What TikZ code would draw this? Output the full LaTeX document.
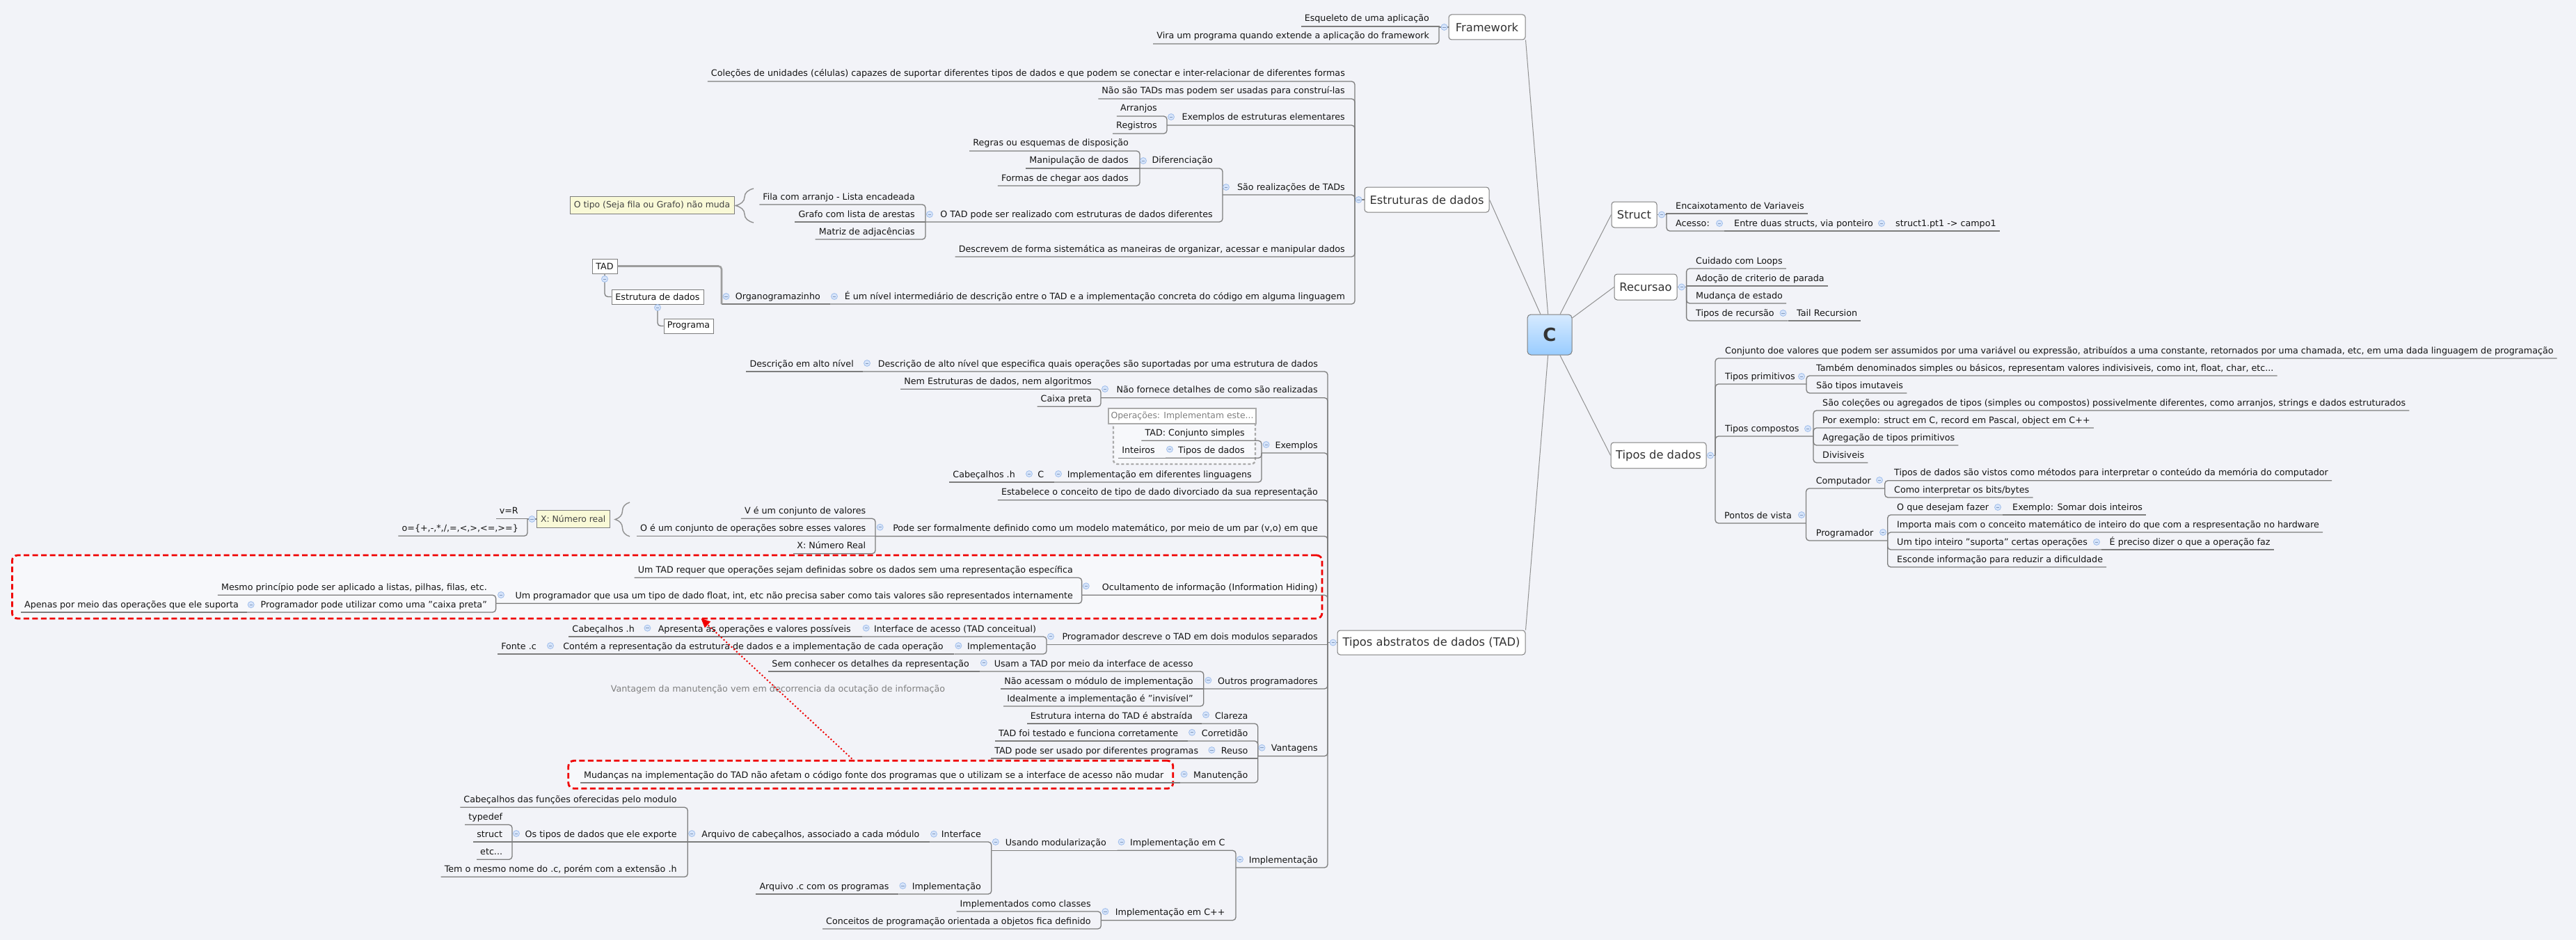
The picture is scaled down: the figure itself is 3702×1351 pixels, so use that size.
\documentclass[tikz,border=0pt]{standalone}
\usepackage{fontspec}
\setmainfont{DejaVu Sans}
\usetikzlibrary{calc,arrows.meta,decorations.pathreplacing}
\definecolor{bgc}{RGB}{242,243,248}
\definecolor{txt}{RGB}{20,20,20}
\definecolor{maintxt}{RGB}{51,51,51}
\definecolor{lnc}{RGB}{125,125,125}
\definecolor{brc}{RGB}{145,145,145}
\definecolor{boxc}{RGB}{125,125,125}
\definecolor{mkf}{RGB}{214,228,250}
\definecolor{mkd}{RGB}{160,190,235}
\definecolor{sumf}{RGB}{249,249,215}
\definecolor{inbg}{RGB}{247,248,251}
\definecolor{bdg}{RGB}{170,170,170}
\definecolor{lblc}{RGB}{128,128,128}
\definecolor{redc}{RGB}{240,0,0}
\definecolor{ctop}{RGB}{214,234,255}
\definecolor{cbot}{RGB}{153,204,255}
\newcommand\tpL[4]{\node[topic,anchor=base east] (#1) at (#2,#3-7) {#4};}
\newcommand\tpR[4]{\node[topic,anchor=base west] (#1) at (#2,#3-7) {#4};}
\newcommand\leafL[2]{\draw[conn] (#1) |- ($(#2.base west)+(-5,7)$);}
\newcommand\leafR[2]{\draw[conn] (#1) |- ($(#2.base east)+(5,7)$);}
\newcommand\leafLs[2]{\draw[conn,sharp corners] (#1) |- ($(#2.base west)+(-5,7)$);}
\newcommand\leafRs[2]{\draw[conn,sharp corners] (#1) |- ($(#2.base east)+(5,7)$);}
\newcommand\lnk[2]{\draw[conn] (#1) |- (#2);}
\newcommand\lnks[2]{\draw[conn,sharp corners] (#1) |- (#2);}
\newcommand\mkat[3]{\node[mkr] (#1) at (#2,#3) {};}
\tikzset{
  topic/.style={inner sep=0pt, font=\fontsize{12.7}{15}\selectfont, text=txt},
  conn/.style={draw=lnc, line width=1.3pt, rounded corners=4.5pt},
  branch/.style={draw=brc, line width=1pt},
  mbox/.style={draw=boxc, fill=white, rounded corners=4pt, line width=1pt, font=\fontsize{16.3}{19}\selectfont, text=maintxt, inner sep=0pt},
  cbox/.style={draw=boxc, rounded corners=5pt, line width=1pt, top color=ctop, bottom color=cbot, font=\fontsize{26}{30}\selectfont\bfseries, text=maintxt, inner sep=0pt, minimum width=64pt, minimum height=58pt},
  orgb/.style={draw=boxc, fill=white, line width=1pt, inner sep=0pt, font=\fontsize{12.7}{15}\selectfont, text=txt},
  sumb/.style={draw=boxc, fill=sumf, line width=1pt, inner sep=0pt, font=\fontsize{12.4}{15}\selectfont, text=txt!80},
  mkr/.style={circle, draw=mkd, fill=mkf, line width=0.8pt, minimum size=9pt, inner sep=0pt,
    path picture={\draw[draw=mkd!80!black, line width=0.9pt] ([xshift=2.4pt]path picture bounding box.west) -- ([xshift=-2.4pt]path picture bounding box.east);}},
  redbd/.style={draw=redc, line width=2.8pt, dash pattern=on 8pt off 4.5pt, rounded corners=8pt, fill=inbg, inner sep=0pt},
  grbd/.style={draw=bdg, line width=2.4pt, dash pattern=on 4pt off 3pt, rounded corners=6pt, fill=inbg, inner sep=0pt},
  gtitle/.style={draw=bdg, line width=2.4pt, fill=white, inner sep=0pt, font=\fontsize{12.4}{15}\selectfont, text=lblc},
  bracesty/.style={draw=brc, line width=1.4pt, decorate},
  lbl/.style={inner sep=0pt, font=\fontsize{12.7}{15}\selectfont, text=lblc},
  dotline/.style={draw=redc, line width=2.8pt, dash pattern=on 0pt off 5pt, line cap=round},
  arrtip/.style={draw=redc, fill=redc, line width=1pt, -{Triangle[length=13pt,width=12pt]}}
}
\begin{document}
\begin{tikzpicture}[x=1pt,y=-1pt]
\useasboundingbox (0,0) rectangle (3702,1351);
\fill[bgc] (0,0) rectangle (3702,1351);

% boundaries
\node[redbd, minimum width=1882.6pt, minimum height=91pt] (rb1) at (958.7,843.5) {};
\node[redbd, minimum width=869pt, minimum height=40pt] (rb2) at (1251.3,1113.3) {};
\node[grbd, minimum width=204pt, minimum height=69pt] (gb) at (1702,632.5) {};
\node[gtitle, minimum width=212pt, minimum height=22pt] (gt) at (1699,598) {Operações: Implementam este...};

% central and main topics
\node[cbox] (C) at (2227,481) {C};
\node[mbox, minimum width=110pt, minimum height=36pt] (fw) at (2137,39) {Framework};
\node[mbox, minimum width=179pt, minimum height=36pt] (ed) at (2050.5,287) {Estruturas de dados};
\node[mbox, minimum width=65pt, minimum height=37pt] (st) at (2348.5,308.5) {Struct};
\node[mbox, minimum width=90pt, minimum height=37pt] (rc) at (2365,412.5) {Recursao};
\node[mbox, minimum width=137pt, minimum height=37pt] (td) at (2383.5,654.5) {Tipos de dados};
\node[mbox, minimum width=270pt, minimum height=35pt] (ta) at (2057,923.5) {Tipos abstratos de dados (TAD)};
\draw[branch] (C) -- (fw.south east);
\draw[branch] (C) -- (ed.east);
\draw[branch] (C) -- (st.west);
\draw[branch] (C) -- (rc.west);
\draw[branch] (C) -- (td.west);
\draw[branch] (C) -- (ta.north east);

% ---------------- Framework
\coordinate (s-fw) at (2068,39);
\tpL{fw1}{2054}{38}{Esqueleto de uma aplicação}
\tpL{fw2}{2054}{63}{Vira um programa quando extende a aplicação do framework}
\draw[conn] (fw.west) -- (s-fw);
\leafLs{s-fw}{fw1}
\leafL{s-fw}{fw2}

% ---------------- Estruturas de dados
\coordinate (s-ed) at (1947,287);
\coordinate (s-ed3) at (1677,180);
\coordinate (s-ed4) at (1757,280);
\coordinate (s-ed4a) at (1638,242);
\coordinate (s-ed4b) at (1330,319);
\coordinate (s-ed6) at (1193,437);
\coordinate (s-org) at (1037,437);
\tpL{ed1}{1933}{117}{Coleções de unidades (células) capazes de suportar diferentes tipos de dados e que podem se conectar e inter-relacionar de diferentes formas}
\tpL{ed2}{1933}{142}{Não são TADs mas podem ser usadas para construí-las}
\tpL{ed3}{1933}{180}{Exemplos de estruturas elementares}
\tpL{ed3a}{1663}{167}{Arranjos}
\tpL{ed3b}{1663}{192}{Registros}
\tpL{ed4}{1933}{280}{São realizações de TADs}
\tpL{ed4a}{1743}{242}{Diferenciação}
\tpL{ed4a1}{1622}{217}{Regras ou esquemas de disposição}
\tpL{ed4a2}{1622}{242}{Manipulação de dados}
\tpL{ed4a3}{1622}{267}{Formas de chegar aos dados}
\tpL{ed4b}{1743}{319}{O TAD pode ser realizado com estruturas de dados diferentes}
\tpL{ed4b1}{1315}{294}{Fila com arranjo - Lista encadeada}
\tpL{ed4b2}{1315}{319}{Grafo com lista de arestas}
\tpL{ed4b3}{1315}{344}{Matriz de adjacências}
\tpL{ed5}{1933}{369}{Descrevem de forma sistemática as maneiras de organizar, acessar e manipular dados}
\tpL{ed6}{1933}{437}{É um nível intermediário de descrição entre o TAD e a implementação concreta do código em alguma linguagem}
\tpL{org}{1179}{437}{Organogramazinho}
\node[orgb, minimum width=36pt, minimum height=21pt] (tadb) at (869,382.5) {TAD};
\node[orgb, minimum width=132pt, minimum height=21pt] (esb) at (945,426.5) {Estrutura de dados};
\node[orgb, minimum width=71pt, minimum height=21pt] (prb) at (989.5,468.5) {Programa};
\node[sumb, minimum width=236pt, minimum height=25pt] (sm1) at (937,294.5) {O tipo (Seja fila ou Grafo) não muda};
\draw[bracesty, decoration={brace,amplitude=26pt}] (1083,320) -- (1083,271);
\draw[conn] (ed.west) -- (s-ed);
\leafL{s-ed}{ed1}
\leafL{s-ed}{ed2}
\lnk{s-ed}{s-ed3}
\leafL{s-ed3}{ed3a}
\leafL{s-ed3}{ed3b}
\lnk{s-ed}{s-ed4}
\lnk{s-ed4}{s-ed4a}
\leafL{s-ed4a}{ed4a1}
\leafLs{s-ed4a}{ed4a2}
\leafL{s-ed4a}{ed4a3}
\lnk{s-ed4}{s-ed4b}
\leafL{s-ed4b}{ed4b1}
\leafLs{s-ed4b}{ed4b2}
\leafL{s-ed4b}{ed4b3}
\leafL{s-ed}{ed5}
\lnk{s-ed}{s-ed6}
\lnks{s-ed6}{s-org}
\draw[conn, draw=lnc!75, line width=2.6pt] (s-org) |- (tadb.east);
\draw[conn] (tadb.south) |- (esb.west);
\draw[conn] (esb.south) |- (prb.west);

% ---------------- Struct
\coordinate (s-st) at (2395,308.5);
\coordinate (s-st2) at (2478,332);
\coordinate (s-st3) at (2711,332);
\tpR{st1}{2408}{307}{Encaixotamento de Variaveis}
\tpR{st2}{2408}{332}{Acesso:}
\tpR{st3}{2492}{332}{Entre duas structs, via ponteiro}
\tpR{st4}{2724}{332}{struct1.pt1 -> campo1}
\draw[conn] (st.east) -- (s-st);
\leafRs{s-st}{st1}
\lnk{s-st}{s-st2}
\lnks{s-st2}{s-st3}
\leafRs{s-st3}{st4}

% ---------------- Recursao
\coordinate (s-rc) at (2423.6,412.5);
\coordinate (s-rc4) at (2569.5,461);
\tpR{rc1}{2437}{386}{Cuidado com Loops}
\tpR{rc2}{2437}{411}{Adoção de criterio de parada}
\tpR{rc3}{2437}{436}{Mudança de estado}
\tpR{rc4}{2437}{461}{Tipos de recursão}
\tpR{rc5}{2582}{461}{Tail Recursion}
\draw[conn] (rc.east) -- (s-rc);
\leafR{s-rc}{rc1}
\leafRs{s-rc}{rc2}
\leafR{s-rc}{rc3}
\lnk{s-rc}{s-rc4}
\leafRs{s-rc4}{rc5}

% ---------------- Tipos de dados
\coordinate (s-td) at (2465,654.5);
\coordinate (s-td2) at (2596,552);
\coordinate (s-td3) at (2606,627);
\coordinate (s-td4) at (2595.5,752);
\coordinate (s-td4a) at (2708.7,702);
\coordinate (s-td4b) at (2712.7,777);
\coordinate (s-td4b1) at (2878,740);
\coordinate (s-td4b3) at (3020,790);
\tpR{td1}{2479}{515}{Conjunto doe valores que podem ser assumidos por uma variável ou expressão, atribuídos a uma constante, retornados por uma chamada, etc, em uma dada linguagem de programação}
\tpR{td2}{2479}{552}{Tipos primitivos}
\tpR{td2a}{2610}{540}{Também denominados simples ou básicos, representam valores indivisiveis, como int, float, char, etc...}
\tpR{td2b}{2610}{565}{São tipos imutaveis}
\tpR{td3}{2479}{627}{Tipos compostos}
\tpR{td3a}{2619}{590}{São coleções ou agregados de tipos (simples ou compostos) possivelmente diferentes, como arranjos, strings e dados estruturados}
\tpR{td3b}{2619}{615}{Por exemplo: struct em C, record em Pascal, object em C++}
\tpR{td3c}{2619}{640}{Agregação de tipos primitivos}
\tpR{td3d}{2619}{665}{Divisiveis}
\tpR{td4}{2478}{752}{Pontos de vista}
\tpR{td4a}{2609.6}{702}{Computador}
\tpR{td4a1}{2722}{690.7}{Tipos de dados são vistos como métodos para interpretar o conteúdo da memória do computador}
\tpR{td4a2}{2722}{715}{Como interpretar os bits/bytes}
\tpR{td4b}{2609.6}{777}{Programador}
\tpR{td4b1}{2726}{740}{O que desejam fazer}
\tpR{td4b1a}{2892}{740}{Exemplo: Somar dois inteiros}
\tpR{td4b2}{2726}{765}{Importa mais com o conceito matemático de inteiro do que com a respresentação no hardware}
\tpR{td4b3}{2726}{790}{Um tipo inteiro "suporta" certas operações}
\tpR{td4b3a}{3031.5}{790}{É preciso dizer o que a operação faz}
\tpR{td4b4}{2726}{815}{Esconde informação para reduzir a dificuldade}
\draw[conn] (td.east) -- (s-td);
\leafR{s-td}{td1}
\lnk{s-td}{s-td2}
\leafR{s-td2}{td2a}
\leafR{s-td2}{td2b}
\lnk{s-td}{s-td3}
\leafR{s-td3}{td3a}
\leafR{s-td3}{td3b}
\leafR{s-td3}{td3c}
\leafR{s-td3}{td3d}
\lnk{s-td}{s-td4}
\lnk{s-td4}{s-td4a}
\leafR{s-td4a}{td4a1}
\leafR{s-td4a}{td4a2}
\lnk{s-td4}{s-td4b}
\lnk{s-td4b}{s-td4b1}
\leafRs{s-td4b1}{td4b1a}
\leafR{s-td4b}{td4b2}
\lnk{s-td4b}{s-td4b3}
\leafRs{s-td4b3}{td4b3a}
\leafR{s-td4b}{td4b4}

% ---------------- Tipos abstratos de dados
\coordinate (s-ta) at (1908,923.5);
\coordinate (s-ta1) at (1240,534);
\coordinate (s-ta2) at (1582,571.7);
\coordinate (s-ta3) at (1813,651);
\coordinate (s-ta3b) at (1675,658.3);
\coordinate (s-ta3c) at (1515,693);
\coordinate (s-ta3c1) at (1473,693);
\coordinate (s-ta5) at (1258,770.7);
\coordinate (s-sm2) at (758,746);
\coordinate (s-ta6) at (1554.6,855.3);
\coordinate (s-ta6b) at (712.6,867.3);
\coordinate (s-ta6b2) at (354.7,880);
\coordinate (s-ta7) at (1504,926.7);
\coordinate (s-ta7a) at (1238.7,915);
\coordinate (s-ta7a1) at (924.4,915);
\coordinate (s-ta7b) at (1371.4,940);
\coordinate (s-ta7b1) at (785,940);
\coordinate (s-ta8) at (1729.8,990);
\coordinate (s-ta8a) at (1407.8,965);
\coordinate (s-ta9) at (1807.7,1086.7);
\coordinate (s-ta9a) at (1727,1040);
\coordinate (s-ta9b) at (1707,1065);
\coordinate (s-ta9c) at (1735.4,1090);
\coordinate (s-ta9d) at (1695.6,1125);
\coordinate (s-ta10) at (1776,1247);
\coordinate (s-ta10a) at (1605.6,1222.3);
\coordinate (s-ta10a1) at (1424.8,1222.3);
\coordinate (s-ta10i) at (1336,1210);
\coordinate (s-ta10i1) at (988.3,1210);
\coordinate (s-ta10i1b) at (736,1210);
\coordinate (s-ta10m) at (1291.4,1285);
\coordinate (s-ta10b) at (1582.3,1322.7);

\tpL{ta1}{1894}{534}{Descrição de alto nível que especifica quais operações são suportadas por uma estrutura de dados}
\tpL{ta1a}{1227}{534}{Descrição em alto nível}
\tpL{ta2}{1894}{571.7}{Não fornece detalhes de como são realizadas}
\tpL{ta2a}{1569}{559.3}{Nem Estruturas de dados, nem algoritmos}
\tpL{ta2b}{1569}{584.3}{Caixa preta}
\tpL{ta3}{1894}{651}{Exemplos}
\tpL{ta3a}{1789}{633.3}{TAD: Conjunto simples}
\tpL{ta3b}{1789}{658.3}{Tipos de dados}
\tpL{ta3b1}{1660}{658.3}{Inteiros}
\tpL{ta3c}{1799}{693}{Implementação em diferentes linguagens}
\tpL{ta3c1}{1500.5}{693}{C}
\tpL{ta3c2}{1459}{693}{Cabeçalhos .h}
\tpL{ta4}{1894}{718.7}{Estabelece o conceito de tipo de dado divorciado da sua representação}
\tpL{ta5}{1894}{770.7}{Pode ser formalmente definido como um modelo matemático, por meio de um par (v,o) em que}
\tpL{ta5a}{1244.4}{745.3}{V é um conjunto de valores}
\tpL{ta5b}{1244.4}{770.7}{O é um conjunto de operações sobre esses valores}
\tpL{ta5c}{1244.4}{795.7}{X: Número Real}
\node[sumb, minimum width=105pt, minimum height=25pt] (sm2) at (823.7,746) {X: Número real};
\draw[bracesty, decoration={brace,amplitude=21pt}] (905,771) -- (905,722);
\tpL{sm2a}{745}{745.3}{v=R}
\tpL{sm2b}{745}{770.3}{o=\{+,-,*,/,=,<,>,<=,>=\}}
\tpL{ta6}{1894}{855.3}{Ocultamento de informação (Information Hiding)}
\tpL{ta6a}{1542}{830.3}{Um TAD requer que operações sejam definidas sobre os dados sem uma representação específica}
\tpL{ta6b}{1542}{867.3}{Um programador que usa um tipo de dado float, int, etc não precisa saber como tais valores são representados internamente}
\tpL{ta6b1}{700}{855.3}{Mesmo princípio pode ser aplicado a listas, pilhas, filas, etc.}
\tpL{ta6b2}{700}{880}{Programador pode utilizar como uma "caixa preta"}
\tpL{ta6b2a}{343}{880}{Apenas por meio das operações que ele suporta}
\tpL{ta7}{1894}{926.7}{Programador descreve o TAD em dois modulos separados}
\tpL{ta7a}{1489.3}{915}{Interface de acesso (TAD conceitual)}
\tpL{ta7a1}{1223}{915}{Apresenta as operações e valores possíveis}
\tpL{ta7a2}{912}{915}{Cabeçalhos .h}
\tpL{ta7b}{1489.3}{940}{Implementação}
\tpL{ta7b1}{1355.8}{940}{Contém a representação da estrutura de dados e a implementação de cada operação}
\tpL{ta7b2}{771}{940}{Fonte .c}
\tpL{ta8}{1894}{990}{Outros programadores}
\tpL{ta8a}{1714.8}{965}{Usam a TAD por meio da interface de acesso}
\tpL{ta8a1}{1393}{965}{Sem conhecer os detalhes da representação}
\tpL{ta8b}{1714.8}{990}{Não acessam o módulo de implementação}
\tpL{ta8c}{1714.8}{1015}{Idealmente a implementação é "invisível"}
\tpL{ta9}{1894}{1086.7}{Vantagens}
\tpL{ta9a}{1793.6}{1040}{Clareza}
\tpL{ta9a1}{1714}{1040}{Estrutura interna do TAD é abstraída}
\tpL{ta9b}{1793.6}{1065}{Corretidão}
\tpL{ta9b1}{1693.3}{1065}{TAD foi testado e funciona corretamente}
\tpL{ta9c}{1793.6}{1090}{Reuso}
\tpL{ta9c1}{1722.3}{1090}{TAD pode ser usado por diferentes programas}
\tpL{ta9d}{1793.6}{1125}{Manutenção}
\tpL{ta9d1}{1672.5}{1125}{Mudanças na implementação do TAD não afetam o código fonte dos programas que o utilizam se a interface de acesso não mudar}
\tpL{ta10}{1894}{1247}{Implementação}
\tpL{ta10a}{1760.6}{1222.3}{Implementação em C}
\tpL{ta10a1}{1590}{1222.3}{Usando modularização}
\tpL{ta10i}{1410}{1210}{Interface}
\tpL{ta10i1}{1321.5}{1210}{Arquivo de cabeçalhos, associado a cada módulo}
\tpL{ta10i1a}{972.8}{1160.3}{Cabeçalhos das funções oferecidas pelo modulo}
\tpL{ta10i1b}{972.8}{1210}{Os tipos de dados que ele exporte}
\tpL{ty1}{722.3}{1185.3}{typedef}
\tpL{ty2}{722.3}{1210}{struct}
\tpL{ty3}{722.3}{1235.3}{etc...}
\tpL{ta10i1c}{972.8}{1260.3}{Tem o mesmo nome do .c, porém com a extensão .h}
\tpL{ta10m}{1410}{1285}{Implementação}
\tpL{ta10m1}{1277.6}{1285}{Arquivo .c com os programas}
\tpL{ta10b}{1760.6}{1322.7}{Implementação em C++}
\tpL{ta10b1}{1567.8}{1310}{Implementados como classes}
\tpL{ta10b2}{1567.8}{1335}{Conceitos de programação orientada a objetos fica definido}

\draw[conn] (ta.west) -- (s-ta);
\lnk{s-ta}{s-ta1}
\leafLs{s-ta1}{ta1a}
\lnk{s-ta}{s-ta2}
\leafL{s-ta2}{ta2a}
\leafL{s-ta2}{ta2b}
\lnk{s-ta}{s-ta3}
\leafL{s-ta3}{ta3a}
\lnk{s-ta3}{s-ta3b}
\leafLs{s-ta3b}{ta3b1}
\lnk{s-ta3}{s-ta3c}
\lnks{s-ta3c}{s-ta3c1}
\leafLs{s-ta3c1}{ta3c2}
\leafL{s-ta}{ta4}
\lnk{s-ta}{s-ta5}
\leafL{s-ta5}{ta5a}
\leafLs{s-ta5}{ta5b}
\leafL{s-ta5}{ta5c}
\draw[conn] (sm2.west) -- (s-sm2);
\leafLs{s-sm2}{sm2a}
\leafL{s-sm2}{sm2b}
\lnk{s-ta}{s-ta6}
\leafL{s-ta6}{ta6a}
\lnk{s-ta6}{s-ta6b}
\leafL{s-ta6b}{ta6b1}
\lnk{s-ta6b}{s-ta6b2}
\leafLs{s-ta6b2}{ta6b2a}
\lnks{s-ta}{s-ta7}
\lnk{s-ta7}{s-ta7a}
\lnks{s-ta7a}{s-ta7a1}
\leafLs{s-ta7a1}{ta7a2}
\lnk{s-ta7}{s-ta7b}
\lnks{s-ta7b}{s-ta7b1}
\leafLs{s-ta7b1}{ta7b2}
\lnk{s-ta}{s-ta8}
\lnk{s-ta8}{s-ta8a}
\leafLs{s-ta8a}{ta8a1}
\leafLs{s-ta8}{ta8b}
\leafL{s-ta8}{ta8c}
\lnk{s-ta}{s-ta9}
\lnk{s-ta9}{s-ta9a}
\leafLs{s-ta9a}{ta9a1}
\lnk{s-ta9}{s-ta9b}
\leafLs{s-ta9b}{ta9b1}
\lnks{s-ta9}{s-ta9c}
\leafLs{s-ta9c}{ta9c1}
\lnk{s-ta9}{s-ta9d}
\leafLs{s-ta9d}{ta9d1}
\lnk{s-ta}{s-ta10}
\lnk{s-ta10}{s-ta10a}
\lnks{s-ta10a}{s-ta10a1}
\lnk{s-ta10a1}{s-ta10i}
\lnks{s-ta10i}{s-ta10i1}
\leafL{s-ta10i1}{ta10i1a}
\lnks{s-ta10i1}{s-ta10i1b}
\leafL{s-ta10i1b}{ty1}
\leafLs{s-ta10i1b}{ty2}
\leafL{s-ta10i1b}{ty3}
\leafL{s-ta10i1}{ta10i1c}
\lnk{s-ta10a1}{s-ta10m}
\leafLs{s-ta10m}{ta10m1}
\lnk{s-ta10}{s-ta10b}
\leafL{s-ta10b}{ta10b1}
\leafL{s-ta10b}{ta10b2}

% ---------------- markers
\mkat{m-fw}{2075.5}{39}
\mkat{m-ed}{1952.5}{287}
\mkat{m-ed3}{1683}{168}
\mkat{m-ed4}{1762}{269}
\mkat{m-ed4a}{1643}{231}
\mkat{m-ed4b}{1336}{308}
\mkat{m-ed6}{1199}{426}
\mkat{m-org}{1043.5}{426}
\mkat{m-tadb}{869}{401}
\mkat{m-esb}{945}{442}
\mkat{m-st}{2388}{308.5}
\mkat{m-st2}{2471}{321}
\mkat{m-st3}{2704}{321}
\mkat{m-rc}{2416.6}{412.5}
\mkat{m-rc4}{2562.5}{450}
\mkat{m-td}{2458}{654.5}
\mkat{m-td2}{2589}{541}
\mkat{m-td3}{2598}{616}
\mkat{m-td4}{2589}{740}
\mkat{m-td4a}{2701}{690}
\mkat{m-td4b}{2706}{765}
\mkat{m-td4b1}{2871}{729}
\mkat{m-td4b3}{3013}{779}
\mkat{m-ta}{1915.7}{923.5}
\mkat{m-ta1}{1246}{522}
\mkat{m-ta2}{1588}{559}
\mkat{m-ta3}{1819.6}{639}
\mkat{m-ta3b}{1681}{645.7}
\mkat{m-ta3c}{1521}{681}
\mkat{m-ta3c1}{1479}{681}
\mkat{m-ta5}{1264.7}{757.7}
\mkat{m-sm2}{764.5}{746}
\mkat{m-ta6}{1560.8}{842.3}
\mkat{m-ta6b}{720}{855}
\mkat{m-ta6b2}{360.7}{869}
\mkat{m-ta7}{1510}{914.7}
\mkat{m-ta7a}{1244.7}{902.7}
\mkat{m-ta7a1}{930.4}{902.7}
\mkat{m-ta7b}{1377.4}{928}
\mkat{m-ta7b1}{791}{928}
\mkat{m-ta8}{1736.4}{977.7}
\mkat{m-ta8a}{1413.8}{952.7}
\mkat{m-ta9}{1813.5}{1074.7}
\mkat{m-ta9a}{1733}{1027.3}
\mkat{m-ta9b}{1713}{1052.7}
\mkat{m-ta9c}{1741.4}{1078}
\mkat{m-ta9d}{1701.6}{1112.7}
\mkat{m-ta10}{1782}{1235}
\mkat{m-ta10a}{1611.6}{1210}
\mkat{m-ta10a1}{1430.8}{1210}
\mkat{m-ta10i}{1342}{1198.7}
\mkat{m-ta10i1}{994.3}{1198}
\mkat{m-ta10i1b}{742}{1198}
\mkat{m-ta10m}{1297.4}{1273}
\mkat{m-ta10b}{1588.4}{1310}

% ---------------- relationship
\node[lbl, anchor=base] (lb) at (1118,994.5) {Vantagem da manutenção vem em decorrencia da ocutação de informação};
\coordinate (a1) at (1227.3,1093.3);
\coordinate (a2) at (1007.5,889);
\coordinate (a3) at ($(a2)!12pt!(a1)$);
\draw[dotline] (a1) -- (a3);
\draw[arrtip] (a3) -- (a2);
\end{tikzpicture}
\end{document}
